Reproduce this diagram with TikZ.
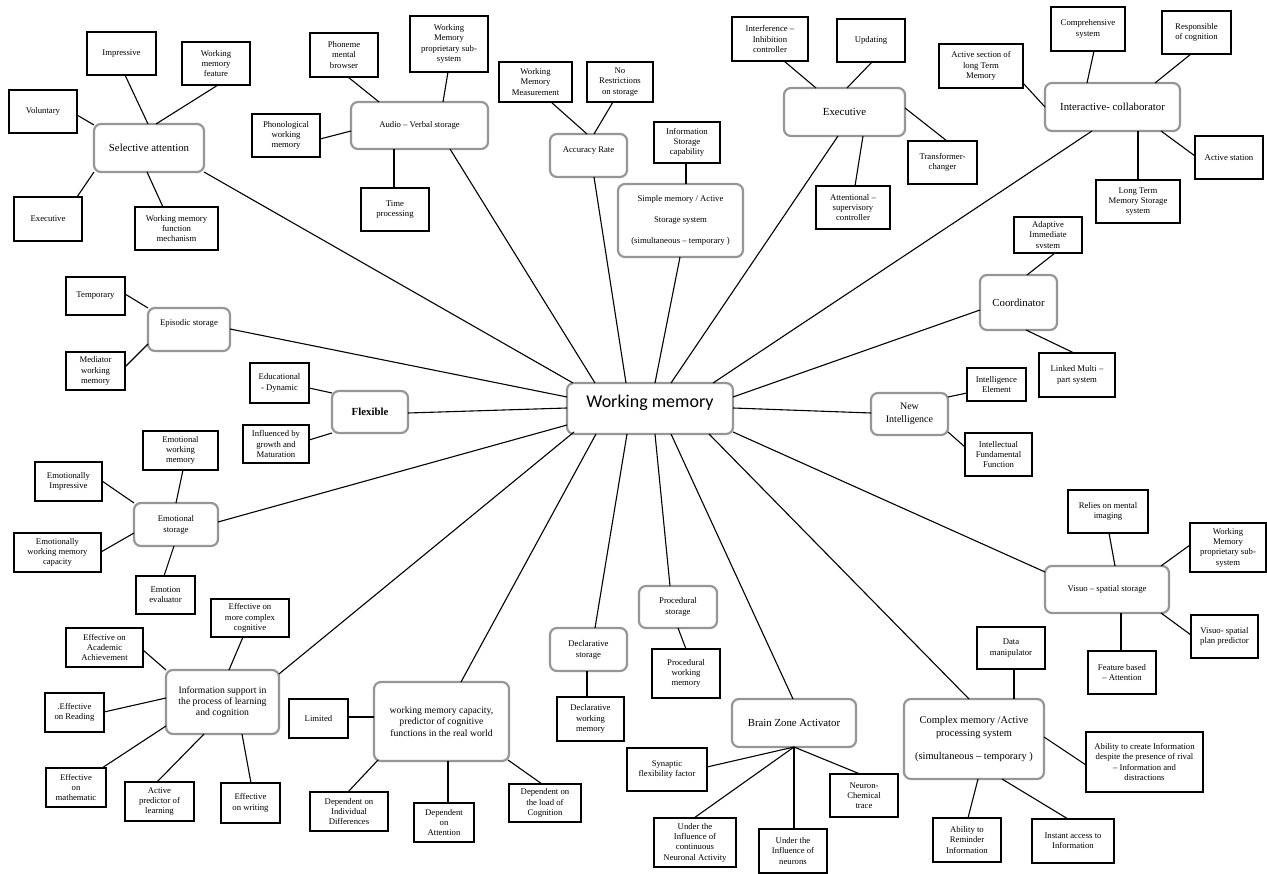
\documentclass[tikz,border=0pt]{standalone}
\usepackage{fontspec}
\setmainfont{Liberation Serif}
\newfontfamily\wmfont{Carlito}
\usetikzlibrary{calc}
\definecolor{rg}{RGB}{150,150,150}
\newcommand\nb[7]{\node[#1, minimum width={#5-#3}, minimum height={#6-#4}] (#2) at ({(#3+#5)/2},{(#4+#6)/2}) {#7};}
\newcommand\lk[6]{\draw[conn] ($(#1.center)+(#2,#3)$) -- ($(#4.center)+(#5,#6)$);}
\begin{document}
\begin{tikzpicture}[x=1pt,y=-1pt,
  sub/.style={draw=black, line width=1.6pt, fill=white, align=center, inner sep=1pt, outer sep=0pt, font=\fontsize{8.7}{10.3}\selectfont},
  rb/.style={draw=rg, line width=2.2pt, rounded corners=7pt, fill=white, align=center, inner sep=1pt, outer sep=0pt, font=\fontsize{8.7}{11}\selectfont},
  big/.style={font=\fontsize{10.8}{12.5}\selectfont},
  conn/.style={line width=1.1pt, black}]
\fill[white] (0,0) rectangle (1267,874);
\useasboundingbox (0,0) rectangle (1267,874);
% main nodes
\nb{rb,font=\wmfont\fontsize{18}{20}\selectfont}{wm}{567}{383}{733}{434}{\raisebox{6pt}[\height][\depth]{Working memory}}
\nb{rb,big}{sel}{94}{124}{204}{172}{Selective attention}
\nb{rb}{aud}{351}{102}{488}{149}{Audio – Verbal storage}
\nb{rb}{acc}{550}{134}{627}{177}{\raisebox{5pt}[\height][\depth]{Accuracy Rate}}
\nb{rb,font=\fontsize{8.7}{10.5}\selectfont}{simp}{618}{184}{743}{257}{Simple memory / Active\\[10.5pt] Storage system\\[10.5pt] (simultaneous – temporary )}
\nb{rb,big}{exe}{784}{88}{905}{136}{Executive}
\nb{rb,big}{inter}{1045}{83}{1180}{131}{Interactive- collaborator}
\nb{rb,big}{coord}{980}{275}{1057}{330}{Coordinator}
\nb{rb,font=\fontsize{10}{12.7}\selectfont}{newi}{871}{393}{948}{435}{New\\Intelligence}
\nb{rb}{vis}{1045}{566}{1169}{613}{Visuo – spatial storage}
\nb{rb,font=\fontsize{10.4}{13}\selectfont}{cplx}{904}{699}{1044}{779}{Complex memory /Active\\processing system\\[10pt](simultaneous – temporary )}
\nb{rb,big}{brain}{732}{699}{856}{747}{Brain Zone Activator}
\nb{rb}{proc}{639}{586}{717}{628}{Procedural\\storage}
\nb{rb}{decl}{550}{628}{627}{671}{Declarative\\storage}
\nb{rb,font=\fontsize{9.7}{11.3}\selectfont}{cap}{374}{682}{509}{761}{working memory capacity,\\predictor of cognitive\\functions in the real world}
\nb{rb,font=\fontsize{9.7}{11.3}\selectfont}{info}{166}{670}{279}{734}{Information support in\\the process of learning\\and cognition}
\nb{rb}{emo}{134}{503}{218}{546}{Emotional\\storage}
\nb{rb,big}{flex}{332}{391}{408}{433}{\textbf{Flexible}}
\nb{rb}{epi}{148}{308}{230}{351}{\raisebox{6pt}[\height][\depth]{Episodic storage}}
% sub nodes
\nb{sub}{imp}{87}{32}{156}{75}{Impressive}
\nb{sub}{wmf}{182}{42}{250}{85}{Working\\memory\\feature}
\nb{sub}{vol}{9}{90}{77}{133}{Voluntary}
\nb{sub}{exec}{14}{197}{82}{241}{Executive}
\nb{sub}{wmfm}{135}{207}{218}{250}{Working memory\\function\\mechanism}
\nb{sub}{phon}{310}{33}{378}{77}{Phoneme\\mental\\browser}
\nb{sub}{phwm}{252}{114}{320}{157}{Phonological\\working\\memory}
\nb{sub}{time}{361}{188}{429}{231}{Time\\processing}
\nb{sub}{wmps}{410}{16}{488}{72}{Working\\Memory\\proprietary sub-\\system}
\nb{sub}{wmm}{499}{62}{572}{102}{Working\\Memory\\Measurement}
\nb{sub}{nores}{587}{62}{653}{102}{No\\Restrictions\\on storage}
\nb{sub}{isc}{654}{122}{720}{163}{Information\\Storage\\capability}
\nb{sub}{intf}{732}{17}{808}{61}{Interference –\\Inhibition\\controller}
\nb{sub}{upd}{837}{19}{905}{62}{Updating}
\nb{sub}{trans}{908}{141}{977}{184}{Transformer-\\changer}
\nb{sub}{attn}{816}{186}{890}{229}{Attentional –\\supervisory\\controller}
\nb{sub}{asl}{939}{44}{1023}{88}{Active section of\\long Term\\Memory}
\nb{sub}{comp}{1051}{7}{1125}{51}{Comprehensive\\system}
\nb{sub}{resp}{1162}{11}{1231}{54}{Responsible\\of cognition}
\nb{sub}{ast}{1195}{136}{1263}{179}{Active station}
\nb{sub}{ltm}{1096}{180}{1180}{223}{Long Term\\Memory Storage\\system}
\nb{sub}{adap}{1014}{217}{1082}{253}{Adaptive\\Immediate\\svstem}
\nb{sub}{lmp}{1039}{353}{1115}{397}{Linked Multi –\\part system}
\nb{sub}{ie}{967}{368}{1026}{401}{Intelligence\\Element}
\nb{sub}{iff}{965}{433}{1032}{476}{Intellectual\\Fundamental\\Function}
\nb{sub}{rel}{1068}{490}{1148}{533}{Relies on mental\\imaging}
\nb{sub}{wmpr}{1190}{523}{1266}{572}{Working\\Memory\\proprietary sub-\\system}
\nb{sub}{vsp}{1191}{615}{1258}{658}{Visuo- spatial\\plan predictor}
\nb{sub}{fba}{1088}{651}{1156}{694}{Feature based\\– Attention}
\nb{sub}{dm}{977}{627}{1045}{669}{Data\\manipulator}
\nb{sub}{act}{1086}{732}{1203}{792}{Ability to create Information\\despite the presence of rival\\– Information and\\distractions}
\nb{sub}{arem}{933}{818}{1001}{862}{Ability to\\Reminder\\Information}
\nb{sub}{ia}{1032}{819}{1114}{863}{Instant access to\\Information}
\nb{sub}{syn}{627}{748}{707}{791}{Synaptic\\flexibility factor}
\nb{sub}{nct}{830}{774}{898}{817}{Neuron-\\Chemical\\trace}
\nb{sub}{ucon}{654}{818}{736}{867}{Under the\\Influence of\\continuous\\Neuronal Activity}
\nb{sub}{uneu}{759}{829}{827}{873}{Under the\\Influence of\\neurons}
\nb{sub}{pwm}{652}{649}{720}{698}{Procedural\\working\\memory}
\nb{sub}{dwm}{557}{697}{624}{741}{Declarative\\working\\memory}
\nb{sub}{lim}{289}{699}{348}{738}{Limited}
\nb{sub}{dind}{310}{792}{388}{831}{Dependent on\\Individual\\Differences}
\nb{sub}{datt}{414}{803}{474}{842}{Dependent\\on\\Attention}
\nb{sub}{dload}{509}{784}{581}{822}{Dependent on\\the load of\\Cognition}
\nb{sub}{emc}{211}{599}{289}{637}{Effective on\\more complex\\cognitive}
\nb{sub}{eac}{66}{628}{143}{667}{Effective on\\Academic\\Achievement}
\nb{sub}{erd}{45}{693}{104}{732}{.Effective\\on Reading}
\nb{sub}{emath}{46}{768}{106}{807}{Effective\\on\\mathematic}
\nb{sub}{apl}{125}{782}{194}{821}{Active\\predictor of\\learning}
\nb{sub}{ewr}{221}{783}{280}{823}{Effective\\on writing}
\nb{sub}{ewm}{143}{431}{218}{470}{Emotional\\working\\memory}
\nb{sub}{eimp}{35}{462}{102}{501}{Emotionally\\Impressive}
\nb{sub}{ecap}{14}{533}{101}{572}{Emotionally\\working memory\\capacity}
\nb{sub}{eev}{136}{576}{195}{614}{Emotion\\evaluator}
\nb{sub}{temp}{66}{277}{125}{315}{Temporary}
\nb{sub}{med}{66}{352}{125}{390}{Mediator\\working\\memory}
\nb{sub}{edu}{250}{363}{309}{403}{Educational\\- Dynamic}
\nb{sub}{infl}{243}{425}{309}{463}{Influenced by\\growth and\\Maturation}
% spokes
\lk{sel}{55}{24}{wm}{-77}{-25.5}
\lk{aud}{30.5}{23.5}{wm}{-55}{-25.5}
\lk{acc}{5.5}{21.5}{wm}{-24}{-25.5}
\lk{simp}{-0.5}{36.5}{wm}{5}{-25.5}
\lk{exe}{-6.5}{24}{wm}{21}{-25.5}
\lk{inter}{-20.5}{24}{wm}{63}{-25.5}
\lk{coord}{-38.5}{7.5}{wm}{83}{-11.5}
\lk{newi}{-38.5}{-1}{wm}{83}{-0.5}
\lk{vis}{-62}{-17.5}{wm}{83}{23.5}
\lk{cplx}{-5}{-40}{wm}{59}{25.5}
\lk{brain}{-1}{-24}{wm}{21}{25.5}
\lk{proc}{-8}{-21}{wm}{5}{25.5}
\lk{decl}{6.5}{-21.5}{wm}{-23}{25.5}
\lk{cap}{19.5}{-39.5}{wm}{-54}{25.5}
\lk{info}{56.5}{-28}{wm}{-76}{23.5}
\lk{emo}{42}{-2.5}{wm}{-83}{16.5}
\lk{flex}{38}{1}{wm}{-83}{-0.5}
\lk{epi}{41}{-0.5}{wm}{-83}{-11.5}
% selective attention
\lk{imp}{3.5}{21.5}{sel}{-1}{-24}
\lk{wmf}{2}{21.5}{sel}{7}{-24}
\lk{vol}{34}{3.5}{sel}{-55}{-23}
\lk{exec}{29}{-22}{sel}{-55}{24}
\lk{wmfm}{-13.5}{-21.5}{sel}{-2}{24}
% audio
\lk{phon}{4}{22}{aud}{-40.5}{-23.5}
\lk{phwm}{34}{3.5}{aud}{-68.5}{5.5}
\lk{time}{-1}{-21.5}{aud}{-25.5}{23.5}
\lk{wmps}{-1}{28}{aud}{23.5}{-23.5}
% accuracy
\lk{wmm}{15.5}{20}{acc}{-1.5}{-21.5}
\lk{nores}{-7}{20}{acc}{5.5}{-21.5}
% simple
\lk{isc}{-1}{20.5}{simp}{5.5}{-36.5}
% executive
\lk{intf}{14}{22}{exe}{-28.5}{-24}
\lk{upd}{1}{21.5}{exe}{2.5}{-24}
\lk{exe}{60.5}{-4}{trans}{4.5}{-21.5}
\lk{exe}{18.5}{24}{attn}{2}{-21.5}
% interactive
\lk{asl}{42}{17}{inter}{-67.5}{0}
\lk{comp}{6}{22}{inter}{-25.5}{-24}
\lk{resp}{-5.5}{21.5}{inter}{42.5}{-24}
\lk{inter}{48.5}{24}{ast}{-34}{-1.5}
\lk{inter}{25.5}{24}{ltm}{0}{-21.5}
% coordinator
\lk{adap}{7}{18}{coord}{8.5}{-27.5}
\lk{coord}{7.5}{27.5}{lmp}{-3}{-22}
% new intelligence
\lk{newi}{38.5}{-17}{ie}{-29.5}{8.5}
\lk{newi}{38.5}{18}{iff}{-33.5}{-7.5}
% visuo
\lk{rel}{1}{21.5}{vis}{8}{-23.5}
\lk{vis}{54}{-23.5}{wmpr}{-38}{-2.5}
\lk{vis}{54}{23.5}{vsp}{-33.5}{-1.5}
\lk{vis}{14}{23.5}{fba}{-1}{-21.5}
% complex
\lk{dm}{3}{21}{cplx}{40}{-40}
\lk{cplx}{70}{-2}{act}{-58.5}{3}
\lk{cplx}{4}{40}{arem}{1}{-22}
\lk{cplx}{28}{40}{ia}{-5}{-22}
% brain
\lk{brain}{0}{24}{syn}{40}{-2.5}
\lk{brain}{0}{24}{nct}{-4}{-21.5}
\lk{brain}{0}{24}{ucon}{-1}{-24.5}
\lk{brain}{0}{24}{uneu}{1}{-22}
% procedural / declarative
\lk{proc}{0}{21}{pwm}{0}{-24.5}
\lk{decl}{-1.5}{21.5}{dwm}{-3.5}{-22}
% capacity
\lk{lim}{29.5}{-1.5}{cap}{-67.5}{-4.5}
\lk{dind}{-1}{-19.5}{cap}{-63.5}{38.5}
\lk{datt}{4}{-19.5}{cap}{6.5}{39.5}
\lk{dload}{-3}{-19}{cap}{66.5}{38.5}
% information support
\lk{emc}{-7}{19}{info}{6.5}{-32}
\lk{eac}{38.5}{2.5}{info}{-56.5}{-32}
\lk{erd}{29.5}{-0.5}{info}{-56.5}{-4}
\lk{emath}{26}{-19.5}{info}{-56.5}{24}
\lk{apl}{-2.5}{-19.5}{info}{-18.5}{32}
\lk{ewr}{0.5}{-20}{info}{19.5}{32}
% emotional
\lk{ewm}{2.5}{19.5}{emo}{0}{-21.5}
\lk{eimp}{33.5}{-0.5}{emo}{-42}{-21.5}
\lk{ecap}{43.5}{-0.5}{emo}{-42}{8.5}
\lk{eev}{-1.5}{-19}{emo}{-2}{21.5}
% episodic
\lk{temp}{29.5}{-2}{epi}{-41}{-21.5}
\lk{med}{29.5}{-4}{epi}{-41}{14.5}
% flexible
\lk{edu}{29.5}{5}{flex}{-38}{-19}
\lk{infl}{33}{-4}{flex}{-38}{21}
\end{tikzpicture}
\end{document}
